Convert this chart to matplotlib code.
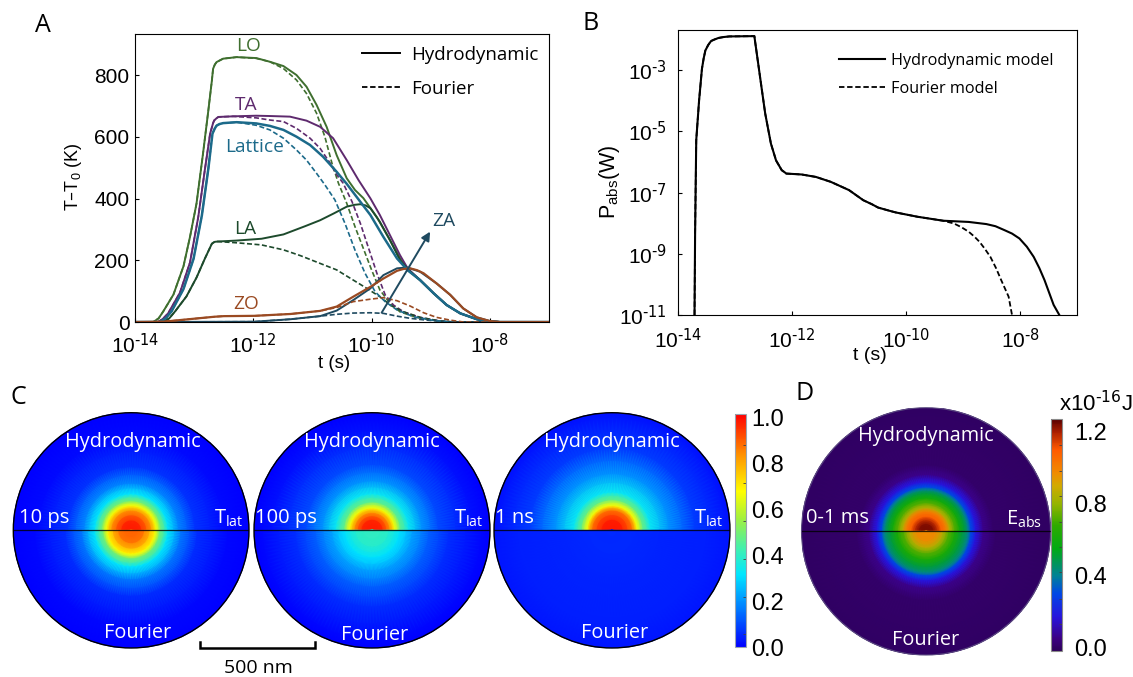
import numpy as np
import matplotlib
matplotlib.use("Agg")
import matplotlib.pyplot as plt
from matplotlib.colors import LinearSegmentedColormap, Normalize
from matplotlib.cm import ScalarMappable
from matplotlib.lines import Line2D
from matplotlib.patches import Circle

plt.rcParams['font.family'] = ['Liberation Sans', 'DejaVu Sans']
plt.rcParams['mathtext.default'] = 'regular'

W, H = 1133, 677
LABEL_FONT = ['Open Sans', 'DejaVu Sans']

# panel A, log10(t) and T-T0
tail_t = [-9.18, -8.95, -8.73, -8.50, -8.22, -8.0, -7.83, -7]
tail_T = [136, 93, 55, 28, 9, 2, 0, 0]

lo_rise_t = [-14, -13.69, -13.60, -13.52, -13.35, -13.18, -13.07, -12.96, -12.85, -12.76, -12.70, -12.68, -12.65, -12.62, -12.51, -12.28]
lo_rise_T = [0, 0, 12, 35, 89, 181, 276, 384, 546, 686, 783, 821, 835, 843, 854, 859]
lo_t = lo_rise_t + [-11.95, -11.72, -11.49, -11.27, -11.10, -10.93, -10.76, -10.59, -10.42, -10.28, -10.14, -9.91, -9.69, -9.52, -9.39] + tail_t
lo_T = lo_rise_T + [856, 844, 830, 801, 763, 704, 633, 541, 466, 428, 402, 340, 266, 207, 168] + tail_T
lo_f_t = lo_rise_t + [-11.95, -11.72, -11.49, -11.27, -11.10, -10.93, -10.79, -10.67, -10.56, -10.42, -10.28, -10.14, -10.0, -9.86, -9.71, -9.52, -9.24, -8.90, -8.62, -7]
lo_f_T = lo_rise_T + [855, 844, 822, 785, 741, 677, 601, 515, 450, 385, 309, 239, 169, 104, 66, 33, 15, 4, 0, 0]

ta_rise_t = [-14, -13.61, -13.53, -13.44, -13.24, -13.07, -12.93, -12.82, -12.73, -12.68, -12.66, -12.62, -12.59, -12.34]
ta_rise_T = [0, 0, 10, 28, 95, 193, 341, 492, 611, 645, 654, 661, 665, 667]
ta_t = ta_rise_t + [-11.95, -11.72, -11.38, -11.10, -10.87, -10.65, -10.42, -10.22, -10.02, -9.86, -9.69, -9.52, -9.39] + tail_t
ta_T = ta_rise_T + [669, 668, 666, 653, 633, 596, 525, 460, 401, 347, 282, 217, 174] + tail_T
ta_f_t = ta_rise_t + [-11.95, -11.72, -11.49, -11.27, -11.04, -10.87, -10.70, -10.59, -10.48, -10.33, -10.19, -10.05, -9.91, -9.77, -9.63, -9.46, -9.18, -8.84, -8.62, -7]
ta_f_T = ta_rise_T + [662, 655, 650, 628, 596, 563, 515, 478, 450, 390, 320, 239, 158, 88, 55, 33, 15, 3, 0, 0]

lat_rise_t = [-14, -13.58, -13.48, -13.38, -13.18, -13.01, -12.87, -12.76, -12.69, -12.65, -12.62, -12.57, -12.51, -12.28]
lat_rise_T = [0, 0, 12, 35, 107, 205, 345, 497, 611, 628, 637, 642, 645, 648]
lat_t = lat_rise_t + [-11.95, -11.72, -11.49, -11.27, -11.04, -10.82, -10.59, -10.42, -10.25, -10.02, -9.80, -9.57, -9.39] + tail_t
lat_T = lat_rise_T + [644, 636, 623, 601, 574, 536, 487, 448, 405, 347, 276, 206, 168] + tail_T
lat_f_t = lat_rise_t + [-11.95, -11.72, -11.49, -11.27, -11.10, -10.93, -10.79, -10.62, -10.45, -10.28, -10.11, -9.94, -9.77, -9.57, -9.29, -8.95, -8.62, -7]
lat_f_T = lat_rise_T + [638, 623, 596, 558, 525, 482, 445, 396, 320, 233, 158, 98, 66, 39, 17, 5, 0, 0]

la_rise_t = [-14, -13.52, -13.42, -13.32, -13.13, -12.96, -12.82, -12.70, -12.67, -12.65, -12.60]
la_rise_T = [0, 0, 12, 35, 83, 144, 205, 254, 258, 260, 261]
la_t = la_rise_t + [-12.29, -11.86, -11.49, -11.12, -10.87, -10.64, -10.42, -10.29, -10.19, -10.10, -10.02, -9.86, -9.69, -9.52, -9.39] + tail_t
la_T = la_rise_T + [264, 270, 284, 311, 330, 352, 374, 380, 382, 378, 369, 325, 266, 201, 171] + tail_T
la_f_t = la_rise_t + [-12.29, -11.86, -11.49, -11.20, -10.87, -10.59, -10.31, -10.08, -9.86, -9.66, -9.46, -9.18, -8.84, -8.62, -7]
la_f_T = la_rise_T + [257, 250, 234, 215, 190, 169, 136, 109, 82, 52, 33, 15, 3, 0, 0]

zo_t = [-14, -13.52, -13.09, -12.66, -12.5, -11.98, -11.37, -10.87, -10.59, -10.31, -10.02, -9.80, -9.57, -9.46, -9.35, -9.23, -9.12, -8.90, -8.67, -8.45, -8.22, -8.0, -7.83, -7]
zo_T = [0, 1, 9, 17, 19, 20, 26, 36, 50, 82, 114, 141, 166, 172, 174, 168, 158, 125, 88, 44, 15, 3, 0, 0]
zo_f_t = [-14, -13.52, -13.09, -12.66, -12.5, -11.98, -11.37, -10.87, -10.59, -10.31, -10.02, -9.80, -9.57, -9.35, -9.12, -8.90, -8.67, -8.45, -7]
zo_f_T = [0, 1, 9, 17, 19, 20, 26, 36, 47, 66, 74, 79, 69, 52, 30, 15, 6, 0, 0]

za_t = [-14, -11.98, -11.37, -10.87, -10.59, -10.31, -10.02, -9.80, -9.57, -9.40, -9.18, -8.90, -8.67, -8.45, -8.22, -8.0, -7.83, -7]
za_T = [0, 1, 9, 19, 37, 71, 109, 152, 174, 177, 163, 125, 88, 44, 15, 3, 0, 0]
za_f_t = [-14, -11.98, -11.37, -10.87, -10.59, -10.31, -10.02, -9.80, -9.57, -9.35, -9.07, -8.73, -8.45, -7]
za_f_T = [0, 1, 9, 19, 25, 29, 30, 28, 19, 12, 6, 1, 0, 0]

# panel B, log10(t) and log10(P)
head_t = [-13.71, -13.70, -13.68, -13.63, -13.58, -13.55, -13.52, -13.47, -13.42, -13.36, -13.29, -13.2, -13.10, -12.66, -12.65, -12.56, -12.47, -12.37, -12.28, -12.18, -12.12, -12.10, -11.83, -11.58, -11.32, -11.00, -10.75, -10.6, -10.49, -10.3, -10.18, -9.80, -9.35]
head_P = [-11, -8.34, -5.29, -3.99, -2.96, -2.62, -2.36, -2.18, -2.05, -2.0, -1.95, -1.92, -1.90, -1.89, -2.03, -3.23, -4.42, -5.40, -5.95, -6.27, -6.35, -6.38, -6.41, -6.49, -6.65, -6.92, -7.25, -7.38, -7.49, -7.59, -7.65, -7.79, -7.92]
pabs_t = head_t + [-8.90, -8.59, -8.43, -8.27, -8.14, -8.01, -7.88, -7.76, -7.66, -7.57, -7.41, -7.31]
pabs_P = head_P + [-7.96, -8.03, -8.10, -8.23, -8.34, -8.50, -8.77, -9.10, -9.47, -9.86, -10.67, -11]
pabs_f_t = head_t + [-9.16, -9.03, -8.90, -8.80, -8.71, -8.62, -8.52, -8.42, -8.33, -8.20, -8.14]
pabs_f_P = head_P + [-8.01, -8.13, -8.28, -8.44, -8.61, -8.83, -9.10, -9.47, -9.86, -10.40, -11]

# radial profiles of the discs, radius as a fraction of the disc radius
t10_r = [0, 0.085, 0.17, 0.21, 0.25, 0.31, 0.4, 0.54, 0.79, 1]
t10_top = [1.0, 0.96, 0.82, 0.67, 0.5, 0.32, 0.18, 0.07, 0.015, 0]
t10_bot_r = [0, 0.11, 0.2, 0.24, 0.31, 0.42, 0.56, 0.82, 1]
t10_bot = [0.92, 0.86, 0.68, 0.5, 0.32, 0.16, 0.06, 0.01, 0]

t100_r = [0, 0.09, 0.15, 0.19, 0.24, 0.31, 0.42, 0.56, 0.85, 1]
t100_top = [1.0, 0.96, 0.83, 0.67, 0.47, 0.33, 0.2, 0.1, 0.02, 0]
t100_bot_r = [0, 0.14, 0.23, 0.34, 0.48, 0.65, 0.93, 1]
t100_bot = [0.42, 0.38, 0.31, 0.22, 0.13, 0.06, 0.01, 0]

t1000_r = [0, 0.09, 0.17, 0.21, 0.26, 0.325, 0.48, 0.7, 0.96, 1]
t1000_top = [1.0, 0.97, 0.87, 0.67, 0.48, 0.33, 0.2, 0.08, 0.03, 0.02]
t1000_bot_r = [0, 0.4, 0.8, 1]
t1000_bot = [0.06, 0.05, 0.04, 0.03]

eabs_r = [0, 0.06, 0.09, 0.12, 0.16, 0.19, 0.23, 0.27, 0.31, 0.335, 0.36, 0.40, 0.46, 0.54, 1]
eabs_top = [1.25, 1.22, 1.17, 1.08, 1.0, 0.85, 0.72, 0.6, 0.5, 0.42, 0.3, 0.17, 0.06, 0.01, 0]
eabs_bot_r = [0, 0.08, 0.134, 0.18, 0.23, 0.29, 0.335, 0.36, 0.40, 0.46, 0.56, 1]
eabs_bot = [0.99, 0.96, 0.85, 0.72, 0.62, 0.5, 0.42, 0.3, 0.17, 0.06, 0.01, 0]

cbar_ticks_t = [0.0, 0.2, 0.4, 0.6, 0.8, 1.0]
cbar_minor_t = [0.055, 0.22, 0.385, 0.55, 0.715, 0.88]
cbar_ticks_e = [0.0, 0.4, 0.8, 1.2]
cbar_minor_e = [0.135, 0.274, 0.42, 0.56, 0.70, 0.843, 0.983, 1.126]

cmap_t = LinearSegmentedColormap.from_list('temp', [
    (0.0, '#0000ff'), (0.17, '#0080ff'), (0.31, '#00e6ff'), (0.42, '#40f0b0'),
    (0.55, '#a0f040'), (0.667, '#ffff00'), (0.82, '#ff9600'), (1.0, '#ff0000')])
cmap_e = LinearSegmentedColormap.from_list('eabs', [
    (0.0, '#2d005a'), (0.052, '#3c0082'), (0.145, '#2814dc'), (0.246, '#0046e6'),
    (0.324, '#008296'), (0.44, '#00aa14'), (0.54, '#2eaa00'), (0.635, '#96b400'),
    (0.713, '#d2aa00'), (0.767, '#f08c00'), (0.868, '#ff5a00'), (0.946, '#aa1e00'),
    (1.0, '#5a0000')])


def px_axes(left, top, right, bottom, **kw):
    return fig.add_axes([left / W, 1 - bottom / H, (right - left) / W, (bottom - top) / H], **kw)


def half_disc(ax, r, vals, th0, th1, cmap, norm):
    th = np.linspace(th0, th1, 91)
    rr, tt = np.meshgrid(r, th)
    cc = np.tile(vals, (len(th), 1))
    ax.pcolormesh(rr * np.cos(tt), rr * np.sin(tt), cc, shading='gouraud', cmap=cmap, norm=norm)


def disc(box, top, bot, cmap, norm, edge='black', edge_lw=1.0):
    ax = px_axes(*box)
    half_disc(ax, top[0], top[1], 0, np.pi, cmap, norm)
    half_disc(ax, bot[0], bot[1], np.pi, 2 * np.pi, cmap, norm)
    ax.plot([-1, 1], [0, 0], color='black', lw=0.9, alpha=0.8)
    ax.add_patch(Circle((0, 0), 1, fill=False, ec=edge, lw=edge_lw, clip_on=False))
    ax.set_xlim(-1, 1)
    ax.set_ylim(-1, 1)
    ax.axis('off')
    return ax


def log_ticks(ax, vals):
    ax.set_xticks([10.0 ** v for v in vals])
    ax.set_xticklabels([r'$10^{\text{%d}}$' % v for v in vals])


fig = plt.figure(figsize=(W / 100, H / 100), dpi=100)

# A
ax_a = px_axes(135, 34, 549, 322)
curves = [
    (lo_t, lo_T, lo_f_t, lo_f_T, '#3f6f2f', 1.4),
    (ta_t, ta_T, ta_f_t, ta_f_T, '#5e2a6e', 1.4),
    (la_t, la_T, la_f_t, la_f_T, '#1d4a2c', 1.4),
    (za_t, za_T, za_f_t, za_f_T, '#1f4a60', 1.4),
    (lat_t, lat_T, lat_f_t, lat_f_T, '#1c6a8a', 1.8),
    (zo_t, zo_T, zo_f_t, zo_f_T, '#9a4a22', 1.6),
]
for t, T, tf, Tf, c, lw in curves:
    ax_a.plot(10.0 ** np.array(tf), Tf, color=c, lw=1.2, ls=(0, (3, 1.5)))
    ax_a.plot(10.0 ** np.array(t), T, color=c, lw=lw)
ax_a.set_xscale('log')
ax_a.set_xlim(1e-14, 1e-7)
ax_a.set_ylim(0, 934)
log_ticks(ax_a, [-14, -12, -10, -8])
ax_a.set_yticks([0, 200, 400, 600, 800])
ax_a.minorticks_off()
ax_a.tick_params(direction='in', length=3, labelsize=15, pad=4)
ax_a.tick_params(axis='x', pad=8)
ax_a.annotate('', xy=(10.0 ** -9.01, 293), xytext=(10.0 ** -9.83, 30),
              arrowprops=dict(arrowstyle='-|>', color='#1f4a60', lw=1.4, mutation_scale=13, shrinkA=0, shrinkB=0))
ax_a.legend(handles=[Line2D([], [], color='black', lw=1.4), Line2D([], [], color='black', lw=1.3, ls=(0, (3, 1.5)))],
            labels=['Hydrodynamic', 'Fourier'], frameon=False, loc='upper left',
            bbox_to_anchor=((362 - 135) / 414, (322 - 46) / 288), borderpad=0, borderaxespad=0,
            handlelength=2.05, handletextpad=0.58, labelspacing=0.85, prop={'family': LABEL_FONT, 'size': 13.5})

# B
ax_b = px_axes(678, 30, 1077, 315)
ax_b.plot(10.0 ** np.array(pabs_f_t), 10.0 ** np.array(pabs_f_P), color='black', lw=1.3, ls=(0, (3, 1.5)))
ax_b.plot(10.0 ** np.array(pabs_t), 10.0 ** np.array(pabs_P), color='black', lw=1.5)
ax_b.set_xscale('log')
ax_b.set_yscale('log')
ax_b.set_xlim(1e-14, 1e-7)
ax_b.set_ylim(1e-11, 10.0 ** -1.69)
log_ticks(ax_b, [-14, -12, -10, -8])
ax_b.set_yticks([1e-11, 1e-9, 1e-7, 1e-5, 1e-3])
ax_b.set_yticklabels([r'$10^{\text{%d}}$' % v for v in [-11, -9, -7, -5, -3]])
ax_b.minorticks_off()
ax_b.tick_params(direction='in', length=3, labelsize=15, pad=8)
ax_b.tick_params(axis='x', pad=9)
ax_b.legend(handles=[Line2D([], [], color='black', lw=1.5), Line2D([], [], color='black', lw=1.3, ls=(0, (3, 1.5)))],
            labels=['Hydrodynamic model', 'Fourier model'], frameon=False, loc='upper left',
            bbox_to_anchor=((839 - 678) / 399, (315 - 53) / 285), borderpad=0, borderaxespad=0,
            handlelength=2.85, handletextpad=0.35, labelspacing=0.72, prop={'family': LABEL_FONT, 'size': 11.7})

# C and D
norm_t = Normalize(0, 1.017)
norm_e = Normalize(-0.017, 1.27)
disc((13.3, 412.7, 249, 648), (t10_r, t10_top), (t10_bot_r, t10_bot), cmap_t, norm_t)
disc((254, 412.7, 490, 648), (t100_r, t100_top), (t100_bot_r, t100_bot), cmap_t, norm_t)
disc((494, 412.7, 730, 648), (t1000_r, t1000_top), (t1000_bot_r, t1000_bot), cmap_t, norm_t)
disc((801.5, 407.7, 1050.5, 655), (eabs_r, eabs_top), (eabs_bot_r, eabs_bot), cmap_e, norm_e, edge='#5a4a80', edge_lw=0.8)

cax_t = px_axes(735, 414, 746, 647)
cb_t = fig.colorbar(ScalarMappable(norm=norm_t, cmap=cmap_t), cax=cax_t)
cb_t.set_ticks(cbar_ticks_t)
cb_t.ax.set_yticks(cbar_minor_t, minor=True)
cb_t.ax.tick_params(which='major', length=0, labelsize=17, pad=4)
cb_t.ax.tick_params(which='minor', direction='in', length=2, width=0.6, color='#404040')
cb_t.outline.set_edgecolor('#9aa4b0')
cb_t.outline.set_linewidth(0.8)

cax_e = px_axes(1051, 419, 1062, 651)
cb_e = fig.colorbar(ScalarMappable(norm=norm_e, cmap=cmap_e), cax=cax_e)
cb_e.set_ticks(cbar_ticks_e)
cb_e.ax.set_yticks(cbar_minor_e, minor=True)
cb_e.ax.tick_params(which='major', length=0, labelsize=17, pad=9)
cb_e.ax.tick_params(which='minor', direction='in', length=2, width=0.6, color='#404040')
cb_e.outline.set_edgecolor('#8a8a8a')
cb_e.outline.set_linewidth(0.8)

# everything placed by pixel goes on an overlay
ov = fig.add_axes([0, 0, 1, 1], facecolor='none')
ov.set_xlim(0, W)
ov.set_ylim(H, 0)
ov.axis('off')


def txt(x, y, s, size=13, color='black', family=LABEL_FONT, **kw):
    ov.text(x, y, s, fontsize=size, color=color, family=family, ha='center', va='center', **kw)


txt(43, 25, 'A', 18)
txt(591, 23, 'B', 18)
txt(18, 398, 'C', 18)
txt(805, 393, 'D', 18)

txt(249, 46, 'LO', 13.8, '#3f6f2f')
txt(246, 105, 'TA', 13.8, '#5e2a6e')
txt(255, 147, 'Lattice', 13.8, '#1c6a8a')
txt(245, 229, 'LA', 13.8, '#1d4a2c')
txt(246, 304, 'ZO', 13.8, '#9a4a22')
txt(444, 221, 'ZA', 13.8, '#1f4a60')

txt(74, 177, 'T\u2013T$_0$ (K)', 13, family=['Liberation Sans'], rotation=90)
txt(334, 364, 't (s)', 13.5, family=['Liberation Sans'])
txt(610, 182, 'P$_{abs}$(W)', 15.5, family=['Liberation Sans'], rotation=90)
txt(870, 356, 't (s)', 14, family=['Liberation Sans'])

for cx, hy, fy, lab, labx, end in [(133, 442, 633, '10 ps', 44, 229), (372, 442, 635, '100 ps', 286, 469), (612, 442, 633, '1 ns', 514, 709)]:
    txt(cx, hy, 'Hydrodynamic', 14.3, 'white')
    txt(cx + 5 if cx == 133 else cx + 3, fy, 'Fourier', 14.3, 'white')
    txt(labx, 518, lab, 14.5, 'white')
    txt(end, 518, 'T$_{lat}$', 14.5, 'white')
txt(926, 436, 'Hydrodynamic', 14.3, 'white')
txt(926, 640, 'Fourier', 14.3, 'white')
txt(837, 518, '0-1 ms', 14.5, 'white')
txt(1024, 519, 'E$_{abs}$', 14.5, 'white')

ov.plot([199.5, 199.5, 315, 315], [641.5, 648, 648, 641.5], color='black', lw=1.8, solid_joinstyle='miter')
txt(258, 668, '500 nm', 14)
txt(1096, 404, r'x$10^{\text{-16}}$J', 16, family=['Liberation Sans'])

fig.savefig('out.png', dpi=100)
